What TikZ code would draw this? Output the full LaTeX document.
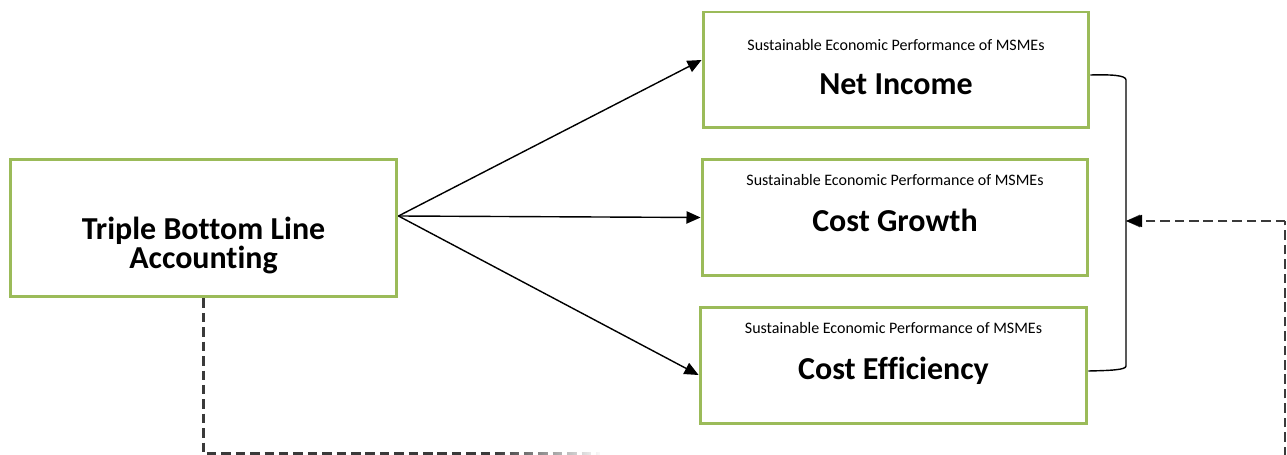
\documentclass[tikz,border=0pt]{standalone}
\usepackage{fontspec}
\setmainfont{Carlito}[Ligatures=NoCommon]
\usetikzlibrary{arrows.meta,calc,fadings}

\definecolor{boxgreen}{HTML}{9BBB59}
\definecolor{dashgray}{HTML}{3A3A3A}

% fades from clear on the left to solid on the right
\tikzfading[name=clearleft, left color=transparent!100, right color=transparent!0]

\tikzset{
  greenbox/.style={draw=boxgreen, line width=1.7pt, fill=white, inner sep=0pt},
  subtitle/.style={anchor=base, font=\fontsize{9.1}{11}\selectfont},
  maintitle/.style={anchor=base, font=\fontsize{18.2}{15.2}\selectfont\bfseries},
  link/.style={line width=0.8pt, -{Triangle[length=8pt,width=7pt]}},
  feedback/.style={draw=dashgray, line width=1.15pt, dash pattern=on 5.4pt off 2.8pt},
}

\begin{document}
\begin{tikzpicture}[x=0.02cm, y=-0.02cm]
  \useasboundingbox (0,0) rectangle (1287,455);

  % boxes
  \node[greenbox, minimum width=7.74cm, minimum height=2.76cm] (tbl) at (203.5,228) {};
  \node[greenbox, minimum width=7.72cm, minimum height=2.32cm] (ni) at (896,70) {};
  \node[greenbox, minimum width=7.72cm, minimum height=2.34cm] (cg) at (895,217.5) {};
  \node[greenbox, minimum width=7.74cm, minimum height=2.34cm] (ce) at (893.5,365.5) {};

  % box texts (base anchor of the two-line title sits on its last line)
  \node[maintitle, align=center] (tbltext) at ($(tbl.north)+(0,111)$) {Triple Bottom Line\\Accounting};

  \node[subtitle] (nisub) at ($(ni.north)+(0,40)$) {Sustainable Economic Performance of MSMEs};
  \node[maintitle] (nitext) at ($(ni.north)+(0,84)$) {Net Income};

  \node[subtitle] (cgsub) at ($(cg.north)+(0,27.5)$) {Sustainable Economic Performance of MSMEs};
  \node[maintitle] (cgtext) at ($(cg.north)+(0,74)$) {Cost Growth};

  \node[subtitle] (cesub) at ($(ce.north)+(0,28)$) {Sustainable Economic Performance of MSMEs};
  \node[maintitle] (cetext) at ($(ce.north)+(0,73.5)$) {Cost Efficiency};

  % fan of arrows from the source box
  \coordinate (src) at ($(tbl.east)+(0,-12)$);
  \draw[link] (src) -- ($(ni.west)+(0,-10)$);
  \draw[link] (src) -- (cg.west);
  \draw[link] (src) -- ($(ce.west)+(0,9.5)$);

  % bracket joining the three outcome boxes
  \coordinate (btop) at ($(ni.east)+(0,5)$);
  \coordinate (bbot) at ($(ce.east)+(0,5.5)$);
  \coordinate (bmid) at (1126,221);
  \draw[line width=0.8pt] (btop) .. controls (1110,74.5) and (1126,75) .. (1126,80)
        -- (1126,366) .. controls (1126,370) and (1110,370.5) .. (bbot);

  % feedback loop (dashed)
  \coordinate (lowcorner) at (tbl.south |- 0,453.5);
  \coordinate (lowend) at (600,453.5);
  \draw[feedback] (tbl.south) -- (lowcorner) -- (lowend);
  \fill[white, path fading=clearleft] (495,448) rectangle (602,458);

  \coordinate (rbot) at (1285,456);
  \coordinate (rtop) at (1285,221);
  \draw[feedback] (rbot) -- (rtop);
  \draw[feedback, -{Triangle[length=8pt,width=7pt]}] (rtop) -- (bmid);
  % tip drawn solid black
  \fill[black] (bmid) -- ++(16,-6.2) -- ++(0,12.4) -- cycle;
\end{tikzpicture}
\end{document}
